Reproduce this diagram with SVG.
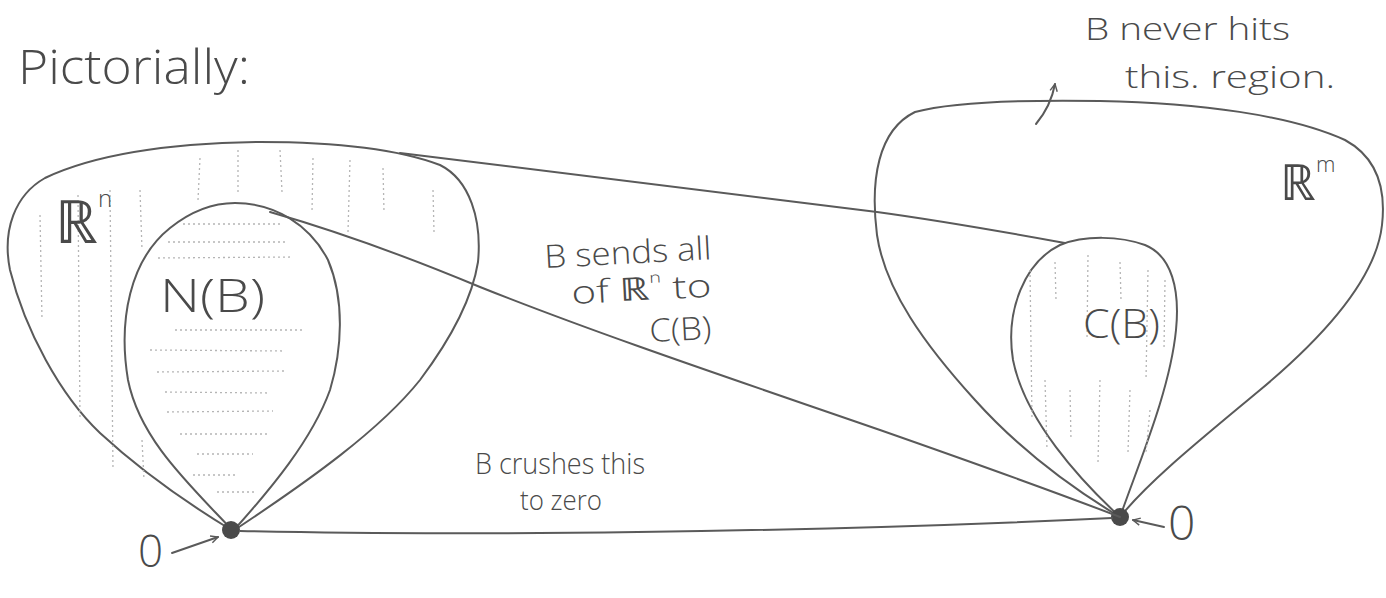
<svg xmlns="http://www.w3.org/2000/svg" width="1386" height="598" viewBox="0 0 1386 598">
<style>
.edge{fill:none;stroke:#5a5a5a;stroke-width:2;stroke-linecap:round;stroke-linejoin:round}
.hatch{fill:none;stroke:#b5b5b5;stroke-width:1.3;stroke-dasharray:2 3}
.t{font-family:"Open Sans","Liberation Sans",sans-serif;font-weight:300;fill:#4a4a4a}
.dot{fill:#4a4a4a}
</style>
<defs>
<marker id="ah" viewBox="0 0 10 10" refX="9" refY="5" markerWidth="9" markerHeight="9" orient="auto-start-reverse" markerUnits="userSpaceOnUse">
<path d="M1,1 L9,5 L1,9" fill="none" stroke="#5a5a5a" stroke-width="1.6"/>
</marker>
</defs>
<rect width="1386" height="598" fill="#ffffff"/>
<text class="t" x="18" y="84" font-size="48" textLength="232" lengthAdjust="spacingAndGlyphs">Pictorially:</text>

<g id="Rn">
<path class="edge" d="M233,531 C190,505 140,470 100,433 C60,395 25,330 10,270 C2,230 15,195 45,178 C100,152 180,143 260,142 C330,142 395,148 440,165 C470,180 482,220 478,262 C472,300 450,340 420,380 C380,430 310,480 233,531 Z"/>
<g class="hatch">
<path d="M40,215 L42,320"/><path d="M78,195 L80,420"/><path d="M110,190 L113,470"/><path d="M140,190 L142,250"/>
<path d="M200,158 L198,200"/><path d="M238,150 L238,192"/><path d="M280,150 L282,192"/><path d="M313,158 L312,212"/>
<path d="M350,160 L348,232"/><path d="M383,168 L384,212"/><path d="M433,190 L434,232"/><path d="M142,440 L144,480"/>
</g>
<text class="t" x="55" y="243" font-size="60">ℝ<tspan font-size="24" dy="-36">n</tspan></text>
</g>

<g id="NB">
<path class="edge" d="M233,531 C190,485 140,440 128,380 C118,320 130,260 170,228 C190,212 212,203 235,203 C275,203 310,225 328,260 C345,300 342,350 330,390 C312,440 270,490 233,531 Z"/>
<g class="hatch">
<path d="M183,224 L280,224"/><path d="M168,242 L285,242"/><path d="M158,258 L292,257"/><path d="M175,330 L305,330"/>
<path d="M150,350 L285,351"/><path d="M157,372 L285,371"/><path d="M165,392 L268,393"/>
<path d="M167,412 L273,411"/><path d="M180,434 L270,434"/><path d="M197,454 L253,454"/><path d="M193,475 L237,475"/><path d="M217,492 L257,492"/>
</g>
<text class="t" x="160" y="312" font-size="46" textLength="105" lengthAdjust="spacingAndGlyphs">N(B)</text>
</g>

<g id="Rm">
<path class="edge" d="M1120,517 C1075,490 1020,450 975,400 C925,345 885,290 877,235 C870,180 878,130 915,112 C960,100 1040,100 1100,101 C1200,103 1290,115 1345,140 C1378,158 1386,190 1382,225 C1376,280 1320,340 1260,390 C1200,440 1150,480 1120,517 Z"/>
<text class="t" x="1280" y="200" font-size="50">ℝ<tspan font-size="22" dy="-28">m</tspan></text>
</g>

<g id="CB">
<path class="edge" d="M1120,517 C1080,480 1025,420 1013,360 C1005,310 1025,262 1060,245 C1085,235 1120,236 1145,245 C1172,256 1180,290 1176,330 C1170,390 1140,460 1120,517 Z"/>
<g class="hatch">
<path d="M1030,270 L1032,420"/><path d="M1055,262 L1056,300"/><path d="M1088,255 L1087,340"/><path d="M1120,262 L1121,300"/>
<path d="M1148,270 L1146,380"/><path d="M1165,280 L1164,350"/><path d="M1045,380 L1047,450"/><path d="M1070,390 L1071,440"/>
<path d="M1100,380 L1098,462"/><path d="M1130,390 L1128,452"/><path d="M1150,410 L1146,452"/>
</g>
<text class="t" x="1083" y="338" font-size="40" textLength="77" lengthAdjust="spacingAndGlyphs">C(B)</text>
</g>

<g id="origin-left">
<circle class="dot" cx="231" cy="530" r="9"/>
<text class="t" x="138" y="567" font-size="44">0</text>
</g>
<g id="origin-right">
<circle class="dot" cx="1120" cy="517" r="9"/>
<text class="t" x="1168" y="540" font-size="48">0</text>
</g>

<g id="connectors">
<path class="edge" d="M400,153 C500,165 700,190 877,212 C950,222 1010,233 1065,243"/>
<path class="edge" d="M270,212 C340,232 420,262 480,287 C600,335 750,385 880,430 C960,458 1050,490 1120,517"/>
<path class="edge" d="M240,531 C450,536 800,533 1112,518"/>
<path class="edge" marker-end="url(#ah)" d="M172,553 L218,537"/>
<path class="edge" marker-end="url(#ah)" d="M1164,527 L1133,520"/>
<path class="edge" marker-end="url(#ah)" d="M1036,124 C1046,112 1052,100 1055,84"/>
</g>

<g id="labels">
<text class="t" x="545" y="268" font-size="32" textLength="167" lengthAdjust="spacingAndGlyphs" transform="rotate(-3 545 268)">B sends all</text>
<text class="t" x="572" y="304" font-size="32" textLength="140" lengthAdjust="spacingAndGlyphs" transform="rotate(-3 572 304)">of ℝ<tspan font-size="15" dy="-17">n</tspan><tspan dy="17"> to</tspan></text>
<text class="t" x="650" y="342" font-size="32" textLength="62" lengthAdjust="spacingAndGlyphs" transform="rotate(-3 650 342)">C(B)</text>
<text class="t" x="475" y="474" font-size="30" textLength="170" lengthAdjust="spacingAndGlyphs">B crushes this</text>
<text class="t" x="520" y="510" font-size="28" textLength="82" lengthAdjust="spacingAndGlyphs">to zero</text>
<text class="t" x="1085" y="40" font-size="32" textLength="205" lengthAdjust="spacingAndGlyphs">B never hits</text>
<text class="t" x="1125" y="88" font-size="32" textLength="210" lengthAdjust="spacingAndGlyphs">this. region.</text>
</g>
</svg>
